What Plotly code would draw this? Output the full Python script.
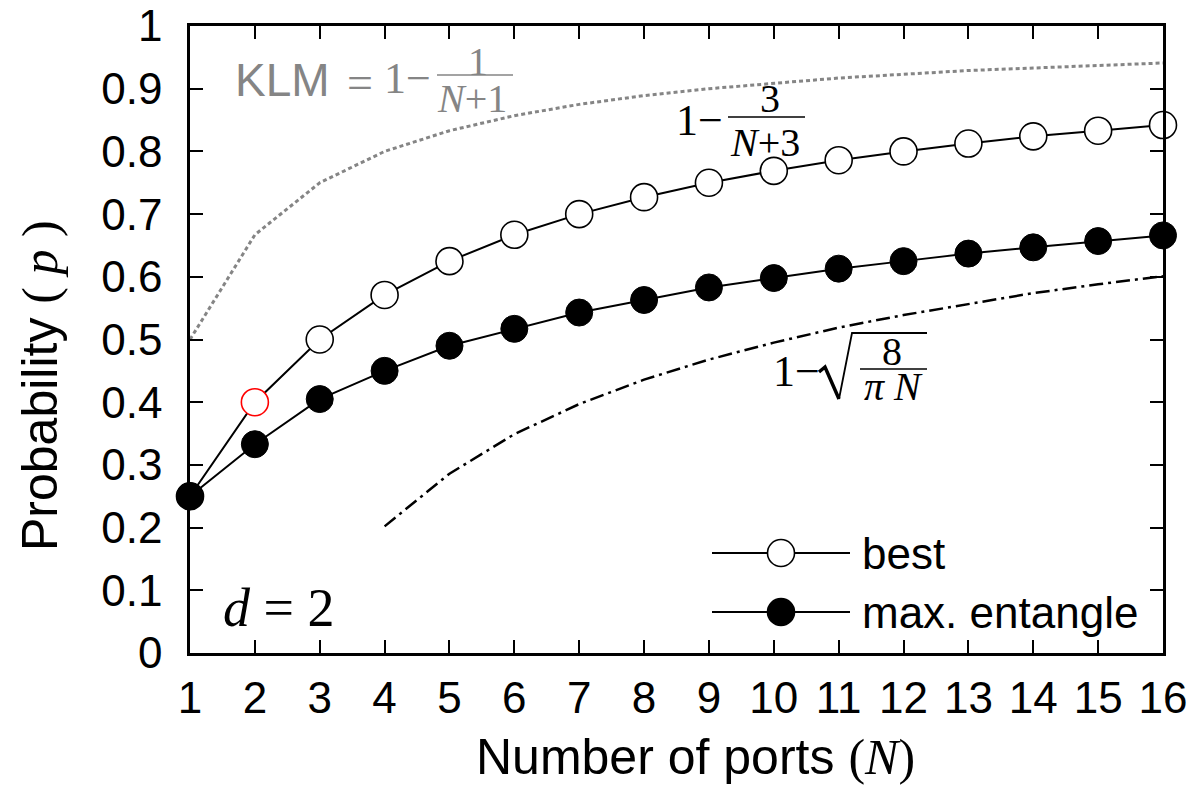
import plotly.graph_objects as go

# ---------------- data ----------------
ports = list(range(1, 17))
best = [0.25, 0.40, 0.50, 0.571, 0.625, 0.667, 0.70, 0.727, 0.75, 0.769, 0.786, 0.80, 0.8125, 0.824, 0.833, 0.842]
max_entangle = [0.25, 0.333, 0.405, 0.45, 0.49, 0.517, 0.543, 0.563, 0.583, 0.598, 0.613, 0.625, 0.637, 0.647, 0.657, 0.666]
klm = [0.50, 0.667, 0.75, 0.80, 0.833, 0.857, 0.875, 0.889, 0.90, 0.909, 0.917, 0.923, 0.929, 0.933, 0.9375, 0.941]
asym_ports = list(range(4, 17))
asym = [0.202, 0.286, 0.349, 0.397, 0.436, 0.468, 0.495, 0.519, 0.539, 0.557, 0.574, 0.588, 0.601]
best_edge_colors = ["black", "red"] + ["black"] * 14
y_ticks = [0, 0.1, 0.2, 0.3, 0.4, 0.5, 0.6, 0.7, 0.8, 0.9, 1.0]
y_tick_text = ["0", "0.1", "0.2", "0.3", "0.4", "0.5", "0.6", "0.7", "0.8", "0.9", "1"]

# ---------------- layout helpers ----------------
W, H = 1195, 788
PL, PR, PT, PB = 190, 1163, 26, 653
SANS = "Liberation Sans, Arial, Helvetica, sans-serif"
SERIF = "Liberation Serif, Times New Roman, serif"
GRAY = "#858585"


def fx(x):
    return (x - PL) / (PR - PL)


def fy(y):
    return (PB - y) / (PB - PT)


fig = go.Figure()

fig.add_trace(go.Scatter(x=ports, y=klm, mode="lines",
                         line=dict(color=GRAY, width=3, dash="4px,3px"),
                         showlegend=False, hoverinfo="skip"))
fig.add_trace(go.Scatter(x=asym_ports, y=asym, mode="lines",
                         line=dict(color="black", width=2.5, dash="14px,5px,3px,5px"),
                         showlegend=False, hoverinfo="skip"))
fig.add_trace(go.Scatter(x=ports, y=best, mode="lines+markers", name="best",
                         line=dict(color="black", width=2),
                         marker=dict(size=27, color="white", symbol="circle",
                                     line=dict(color=best_edge_colors, width=1.6)),
                         cliponaxis=False, showlegend=False))
fig.add_trace(go.Scatter(x=ports, y=max_entangle, mode="lines+markers", name="max. entangle",
                         line=dict(color="black", width=2),
                         marker=dict(size=27, color="black", symbol="circle",
                                     line=dict(color="black", width=1)),
                         cliponaxis=False, showlegend=False))

annotations = []
shapes = []


def text(x, y, t, size, family=SANS, color="black", xanchor="center", yanchor="middle", angle=0):
    annotations.append(dict(x=fx(x), y=fy(y), xref="paper", yref="paper", text=t,
                            showarrow=False, xanchor=xanchor, yanchor=yanchor,
                            textangle=angle,
                            font=dict(size=size, family=family, color=color)))


def seg(x0, y0, x1, y1, color="black", width=2):
    shapes.append(dict(type="line", xref="paper", yref="paper",
                       x0=fx(x0), y0=fy(y0), x1=fx(x1), y1=fy(y1),
                       line=dict(color=color, width=width), layer="above"))


# axis titles
text(695, 757, "Number of ports <span style='font-family:Liberation Serif'>(<i>N</i>)</span>", 50)
text(40, 386, "Probability <span style='font-family:Liberation Serif'>( <i>p</i> )</span>", 50, angle=-90)

# KLM formula (gray)
text(233, 80, "KLM", 46, color=GRAY, xanchor="left")
text(360, 82, "=", 46, family=SERIF, color=GRAY)
text(407, 78, "1\u2212", 44, family=SERIF, color=GRAY)
text(478, 61, "1", 40, family=SERIF, color=GRAY)
seg(437, 75, 513, 75, color=GRAY, width=1.5)
text(472, 98, "<i>N</i>+1", 40, family=SERIF, color=GRAY)

# 1 - 3/(N+3)
text(699, 120, "1\u2212", 44, family=SERIF)
text(770, 98, "3", 40, family=SERIF)
seg(728, 117, 805, 117, width=1.5)
text(765, 142, "<i>N</i>+3", 40, family=SERIF)

# 1 - sqrt(8/(pi N))
text(796, 371, "1\u2212", 44, family=SERIF)
shapes.append(dict(type="path", xref="paper", yref="paper",
                   path=f"M {fx(819)},{fy(372)} L {fx(825)},{fy(367)} L {fx(839)},{fy(399)}",
                   line=dict(color="black", width=3.5), layer="above"))
shapes.append(dict(type="path", xref="paper", yref="paper",
                   path=f"M {fx(839)},{fy(399)} L {fx(852)},{fy(333)} L {fx(927)},{fy(333)}",
                   line=dict(color="black", width=1.8), layer="above"))
text(892, 351, "8", 40, family=SERIF)
seg(860, 369, 927, 369, width=1.5)
text(893, 387, "<i>\u03c0 N</i>", 40, family=SERIF)

# d = 2
text(278, 608, "<i>d</i> = 2", 54, family=SERIF)

# legend (drawn manually)
for ly, fill, label in [(553, "white", "best"), (612, "black", "max. entangle")]:
    seg(712, ly, 850, ly, width=2)
    shapes.append(dict(type="circle", xref="paper", yref="paper",
                       xsizemode="pixel", ysizemode="pixel",
                       xanchor=fx(781), yanchor=fy(ly), x0=-13.5, x1=13.5, y0=-13.5, y1=13.5,
                       fillcolor=fill, line=dict(color="black", width=1.6), layer="above"))
    text(860, ly, label, 44, xanchor="left")

axis_common = dict(showline=True, linecolor="black", linewidth=2.5, mirror="ticks",
                   ticks="inside", ticklen=13, tickwidth=2, tickcolor="black",
                   showgrid=False, zeroline=False, automargin=False,
                   tickfont=dict(family=SANS, size=44, color="black"))

fig.update_layout(
    width=W, height=H,
    margin=dict(l=PL, r=W - PR, t=PT, b=H - PB, autoexpand=False),
    paper_bgcolor="white", plot_bgcolor="white",
    xaxis=dict(range=[1, 16], tickmode="array", tickvals=ports, ticktext=[str(p) for p in ports],
               ticklabelstandoff=4, **axis_common),
    yaxis=dict(range=[0, 1], tickmode="array", tickvals=y_ticks, ticktext=y_tick_text,
               ticklabelstandoff=16, **axis_common),
    annotations=annotations, shapes=shapes,
)

fig.write_html("out.html", config={"displayModeBar": False},
               post_script="document.body.style.margin='0';document.body.style.overflow='hidden';")
